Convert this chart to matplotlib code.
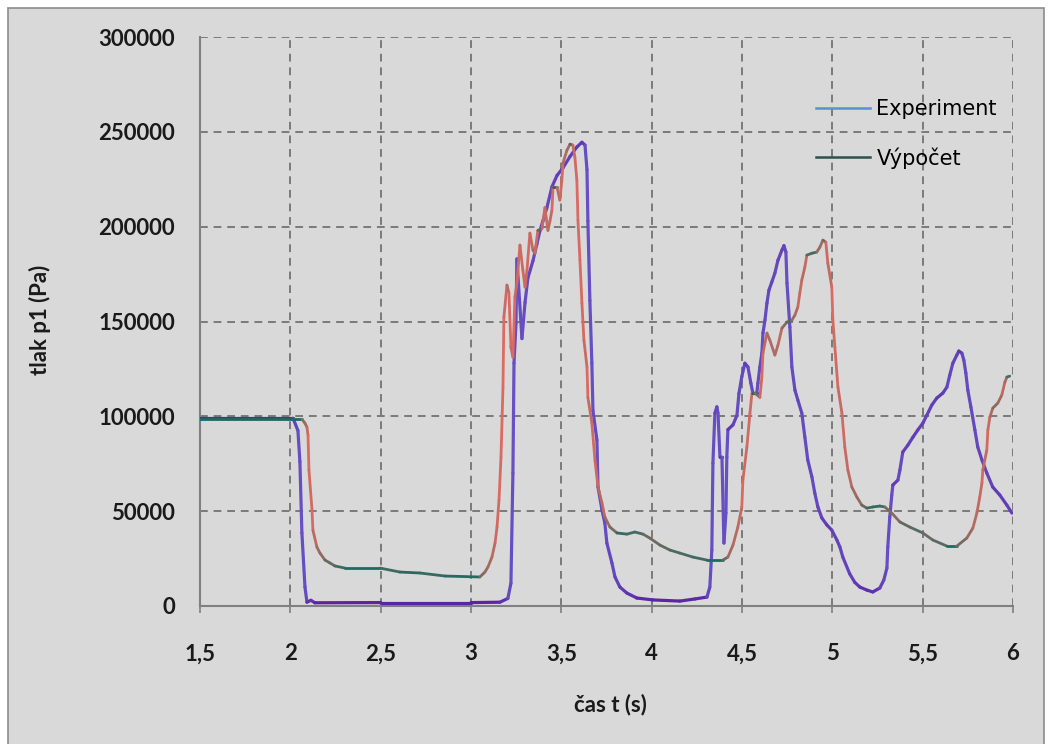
import numpy as np
import matplotlib
matplotlib.use('Agg')
from matplotlib import pyplot as plt
from matplotlib.collections import LineCollection
from matplotlib.lines import Line2D
from matplotlib.patches import Rectangle
from matplotlib.ticker import FuncFormatter

# measured pressure p1 (Pa) over time (s)
exp_t = [1.5, 2.015, 2.042, 2.053, 2.064, 2.081, 2.092, 2.114, 2.136, 2.5, 3.0, 3.16,
         3.204, 3.221, 3.232, 3.238, 3.249, 3.254, 3.282, 3.299, 3.315, 3.343, 3.365,
         3.382, 3.398, 3.42, 3.448, 3.476, 3.509, 3.548, 3.586, 3.614, 3.631, 3.642,
         3.647, 3.658, 3.669, 3.675, 3.697, 3.703, 3.725, 3.741, 3.752, 3.78, 3.797,
         3.824, 3.863, 3.918, 4.007, 4.156, 4.239, 4.306, 4.322, 4.333, 4.339, 4.35,
         4.361, 4.367, 4.378, 4.389, 4.4, 4.411, 4.416, 4.422, 4.45, 4.472, 4.483,
         4.499, 4.516, 4.533, 4.549, 4.56, 4.582, 4.588, 4.599, 4.61, 4.616, 4.627,
         4.638, 4.649, 4.665, 4.682, 4.699, 4.721, 4.732, 4.743, 4.749, 4.765, 4.776,
         4.793, 4.809, 4.831, 4.848, 4.864, 4.887, 4.903, 4.92, 4.942, 4.97, 4.997,
         5.025, 5.042, 5.058, 5.096, 5.124, 5.152, 5.191, 5.224, 5.263, 5.285, 5.302,
         5.307, 5.318, 5.329, 5.335, 5.363, 5.374, 5.39, 5.418, 5.446, 5.473, 5.501,
         5.523, 5.551, 5.578, 5.612, 5.634, 5.65, 5.667, 5.689, 5.7, 5.717, 5.728,
         5.739, 5.75, 5.767, 5.789, 5.805, 5.828, 5.855, 5.888, 5.927, 5.966, 5.994]
exp_p = [99000, 99000, 92500, 76000, 38500, 10000, 2000, 3000, 1700, 1800, 1800, 2000,
         4000, 12000, 70000, 128000, 149000, 183000, 141000, 160000, 173000, 182000, 191000,
         198000, 203000, 210000, 221000, 227000, 231000, 237000, 242000, 244500, 243000, 230000,
         203000, 161000, 128000, 103000, 87500, 62700, 50600, 43700, 33200, 22700, 15300,
         10000, 6800, 4200, 3200, 2600, 3700, 4700, 10000, 29500, 75400, 101700,
         105000, 101700, 78500, 78500, 33200, 49000, 78500, 93000, 95500, 100500, 112000,
         121000, 128000, 126000, 117500, 112300, 112300, 117500, 126000, 133300, 143900, 150700,
         159700, 166500, 170800, 175500, 182300, 187600, 190000, 186600, 170200, 147000, 126000,
         113800, 108600, 101700, 89000, 77000, 68000, 59500, 52200, 46400, 42700, 40000,
         34800, 31100, 25800, 17000, 12500, 10000, 8400, 7400, 9500, 13700, 20000,
         31100, 46900, 58500, 63800, 66400, 71700, 81200, 84800, 89000, 92800, 96400,
         100600, 106000, 109600, 112300, 115400, 121700, 128000, 132300, 134400, 133300, 129600,
         122800, 113800, 104900, 92800, 83800, 77000, 70100, 62700, 58500, 53200, 49000]

# computed pressure p1 (Pa)
calc_t = [1.5, 2.064, 2.081, 2.092, 2.098, 2.103, 2.12, 2.125, 2.147, 2.164, 2.192, 2.219,
          2.247, 2.302, 2.496, 2.607, 2.717, 2.856, 3.049, 3.077, 3.094, 3.116, 3.133,
          3.144, 3.155, 3.166, 3.177, 3.182, 3.199, 3.21, 3.221, 3.232, 3.243, 3.254,
          3.271, 3.287, 3.299, 3.31, 3.326, 3.343, 3.354, 3.37, 3.393, 3.409, 3.426,
          3.437, 3.448, 3.454, 3.476, 3.492, 3.503, 3.509, 3.531, 3.548, 3.564, 3.575,
          3.586, 3.592, 3.603, 3.614, 3.625, 3.642, 3.647, 3.669, 3.686, 3.703, 3.725,
          3.741, 3.769, 3.808, 3.863, 3.907, 3.952, 3.99, 4.046, 4.101, 4.156, 4.228,
          4.306, 4.394, 4.422, 4.45, 4.477, 4.499, 4.505, 4.527, 4.544, 4.555, 4.571,
          4.599, 4.61, 4.616, 4.638, 4.654, 4.682, 4.699, 4.721, 4.749, 4.776, 4.793,
          4.809, 4.82, 4.831, 4.848, 4.859, 4.887, 4.914, 4.931, 4.948, 4.964, 4.975,
          4.997, 5.003, 5.014, 5.031, 5.053, 5.069, 5.086, 5.108, 5.136, 5.163, 5.191,
          5.224, 5.263, 5.291, 5.329, 5.374, 5.429, 5.501, 5.556, 5.634, 5.689, 5.744,
          5.778, 5.8, 5.816, 5.828, 5.833, 5.855, 5.861, 5.872, 5.888, 5.916, 5.938,
          5.955, 5.966, 5.982]
calc_p = [98500, 98500, 96400, 94300, 90000, 71700, 50600, 40000, 31100, 27900, 24200, 22700,
          21100, 20000, 20000, 17900, 17400, 15800, 15300, 17900, 20600, 25800, 33200,
          41600, 55900, 78500, 115400, 152300, 169200, 165000, 136500, 131200, 162800, 170200,
          190300, 177100, 168100, 177100, 196600, 187600, 186000, 198000, 199000, 210000, 198000,
          203000, 208700, 220800, 220800, 214000, 224500, 233500, 240300, 243500, 243000, 236600,
          224500, 203400, 182300, 159700, 140200, 126000, 110000, 96400, 77000, 62700, 54300,
          46900, 41600, 38500, 37900, 39000, 37900, 35800, 32100, 29500, 27900, 25800,
          24200, 24200, 25800, 32100, 41600, 52200, 66400, 83800, 101700, 112300, 112300,
          110000, 120700, 133300, 143900, 140200, 132300, 137500, 146500, 149700, 150700, 153400,
          157600, 165000, 171800, 178700, 185000, 186000, 186600, 189200, 192900, 191800, 180800,
          168100, 150700, 136500, 115400, 101700, 83800, 71700, 62700, 57400, 53200, 51600,
          52200, 52700, 52200, 49000, 44300, 41600, 38500, 34800, 31600, 31600, 35800,
          41100, 49000, 57400, 64800, 71700, 82200, 92800, 99600, 104300, 107000, 111200,
          118000, 120700, 121200]

x_ticks = [1.5, 2, 2.5, 3, 3.5, 4, 4.5, 5, 5.5, 6]
y_ticks = [0, 50000, 100000, 150000, 200000, 250000, 300000]

W, H = 1052, 744
bg = '#d9d9d9'
label_font = 'Lato'


def draw_series(ax, t, p, flat_color, steep_color, lw, z):
    # colour each segment by how steep it is on screen
    t = np.asarray(t, float)
    p = np.asarray(p, float)
    pts = ax.transData.transform(np.column_stack([t, p]))
    d = np.abs(np.diff(pts, axis=0))
    f = d[:, 1] / (d[:, 0] + d[:, 1] + 1e-9)
    c0 = np.array(matplotlib.colors.to_rgb(flat_color))
    c1 = np.array(matplotlib.colors.to_rgb(steep_color))
    cols = c0 * (1 - f)[:, None] + c1 * f[:, None]
    segs = np.stack([np.column_stack([t[:-1], p[:-1]]),
                     np.column_stack([t[1:], p[1:]])], axis=1)
    lc = LineCollection(segs, colors=cols, linewidths=lw, zorder=z,
                        capstyle='round', joinstyle='round')
    ax.add_collection(lc)


fig = plt.figure(figsize=(W / 100, H / 100), dpi=100, facecolor='white')
frame = Rectangle((8 / W, -0.01), (1044 - 8) / W, 1 - 8 / H + 0.01,
                  transform=fig.transFigure, facecolor=bg,
                  edgecolor='#8c8c8c', linewidth=1.2, zorder=-10)
fig.add_artist(frame)

ax = fig.add_axes([200 / W, 1 - 606 / H, (1013 - 200) / W, (606 - 37) / H])
ax.set_facecolor('none')
ax.set_xlim(1.5, 6)
ax.set_ylim(0, 300000)

for s in ['top', 'right']:
    ax.spines[s].set_visible(False)
for s in ['left', 'bottom']:
    ax.spines[s].set_color('#808080')
    ax.spines[s].set_linewidth(1.5)

ax.set_xticks(x_ticks)
ax.set_yticks(y_ticks)
ax.set_axisbelow(True)
ax.grid(True, color='#7a7a7a', linestyle=(0, (4, 3)), linewidth=1.4)
ax.tick_params(axis='x', direction='out', length=5, width=1.2, color='#808080', pad=22)
ax.tick_params(axis='y', length=0, pad=18)
ax.xaxis.set_major_formatter(FuncFormatter(lambda v, pos: ('%g' % v).replace('.', ',')))
ax.yaxis.set_major_formatter(FuncFormatter(lambda v, pos: '%d' % v))
for lab in ax.get_xticklabels() + ax.get_yticklabels():
    lab.set_fontfamily(label_font)
    lab.set_fontweight('bold')
    lab.set_fontsize(16)
    lab.set_color('#1a1a1a')

draw_series(ax, exp_t, exp_p, '#5a24a4', '#6650c4', 2.3, 3)
draw_series(ax, calc_t, calc_p, '#1f6a60', '#e06a62', 2.0, 4)

fig.text(610 / W, 1 - 705 / H, 'čas t (s)', ha='center', va='center',
         fontfamily=label_font, fontweight='bold', fontsize=16, color='#1a1a1a')
fig.text(40 / W, 1 - 320 / H, 'tlak p1 (Pa)', ha='center', va='center', rotation=90,
         fontfamily=label_font, fontweight='bold', fontsize=16, color='#1a1a1a')

handles = [Line2D([], [], color='#5b8fd0', lw=1.8),
           Line2D([], [], color='#2f4f4c', lw=1.8)]
ax.legend(handles, ['Experiment', 'Výpočet'], loc='upper left',
          bbox_to_anchor=(816 / W, 1 - 99 / H), bbox_transform=fig.transFigure,
          frameon=False, prop={'family': 'DejaVu Sans', 'size': 15},
          handlelength=2.6, handletextpad=0.3, labelspacing=1.35,
          borderaxespad=0, borderpad=0)

fig.savefig('out.png', dpi=100, facecolor='white')
